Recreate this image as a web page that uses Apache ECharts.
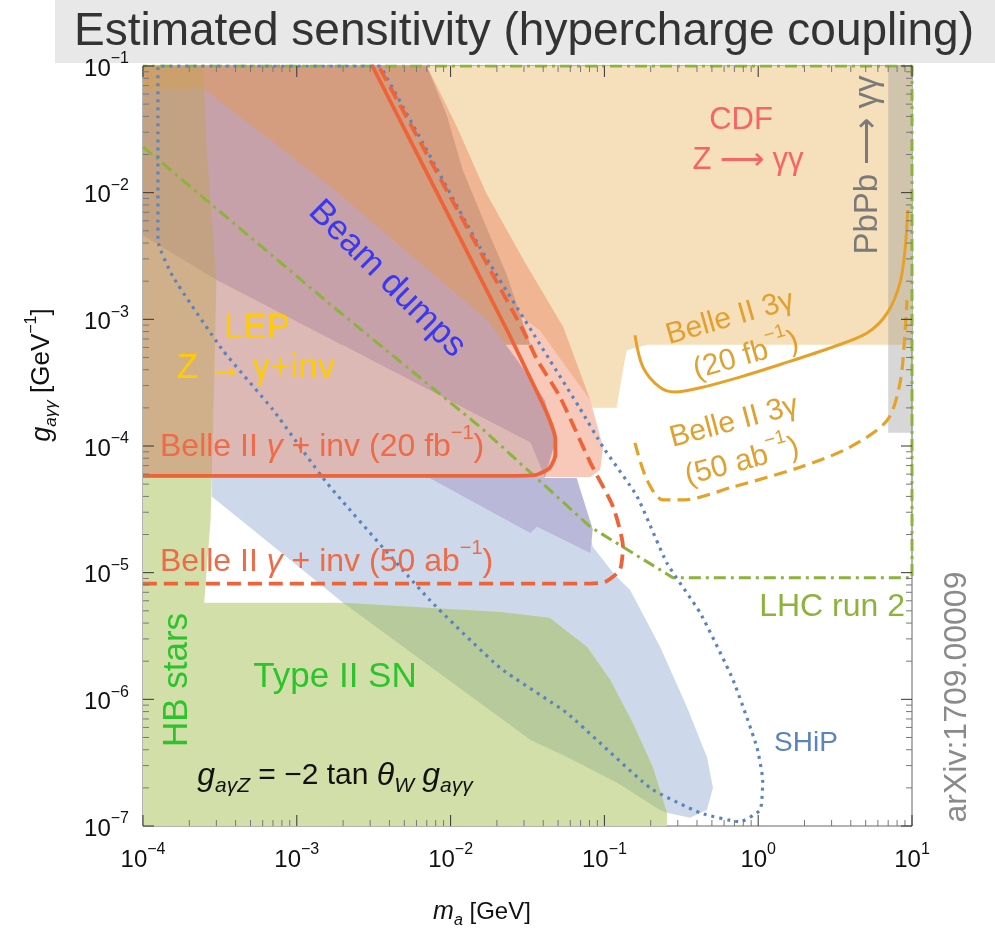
<!DOCTYPE html>
<html>
<head>
<meta charset="utf-8">
<script src="https://cdn.jsdelivr.net/npm/echarts@6/dist/echarts.min.js"></script>
<style>
  html, body { margin: 0; padding: 0; background: #ffffff; }
  #chart { width: 995px; height: 932px; }
</style>
</head>
<body>
<div id="chart"></div>
<script>
// Points are [m_a (GeV), g_aγγ (GeV^-1)].

// ---- shaded exclusion / sensitivity regions ----
const regionTan = [[1e-4,0.1],[10,0.1],[10,6.3e-4],[0.19,6.3e-4],[0.14,5.7e-4],[0.135,4.6e-4],[0.12,2.0e-4],[1e-4,2.0e-4]];
const regionPeach = [[1e-4,0.1],[7.0e-3,0.1],[0.011,0.033],[0.017,0.010],[0.030,2.9e-3],[0.054,8.7e-4],[0.081,2.3e-4],[1e-4,2.3e-4]];
const regionSalmon = [[1e-4,1.4e-3],[0.021,1.4e-3],[0.038,8.2e-4],[0.081,2.3e-4],[0.098,9.8e-5],[0.094,6.5e-5],[0.081,5.7e-5],[1e-4,5.7e-5]];
const regionBrown = [[1e-4,0.1],[7.0e-3,0.1],[9.5e-3,0.040],[0.012,0.015],[0.017,5.4e-3],[0.023,2.3e-3],[0.029,1.0e-3],[0.033,6.3e-4],[1e-4,6.3e-4]];
const regionPurple = [[1e-4,0.065],[2.45e-4,0.067],[1.64e-3,0.0113],[0.0173,9.9e-4],[0.027,4.8e-4],[0.041,2.3e-4],[0.048,1.1e-4],[0.041,5.6e-5],[0.033,1.06e-4],[3.0e-4,2.05e-3],[1e-4,4.6e-3]];
const regionPink = [[1e-4,4.6e-3],[3.0e-4,2.05e-3],[0.033,1.06e-4],[0.041,5.6e-5],[1e-4,5.6e-5]];
const regionBlue = [[2.8e-4,5.6e-5],[0.066,5.6e-5],[0.084,1.6e-5],[0.117,9.6e-6],[0.147,7.3e-6],[0.23,2.6e-6],[0.344,8.7e-7],[0.464,3.5e-7],[0.508,2.0e-7],[0.464,1.34e-7],[0.36,1.16e-7],[0.255,1.27e-7],[0.23,1.34e-7],[0.121,2.2e-7],[0.057,3.5e-7],[0.033,4.8e-7],[2.0e-3,5.8e-6],[2.8e-4,4.0e-5]];
const regionBluePurple = [[7.3e-3,5.6e-5],[0.066,5.6e-5],[0.084,2.2e-5],[0.081,1.43e-5],[0.0365,2.3e-5],[0.033,2.06e-5]];
const regionSN = [[1e-4,5.8e-6],[2.0e-3,5.8e-6],[0.021,4.9e-6],[0.044,4.4e-6],[0.077,2.6e-6],[0.109,1.43e-6],[0.153,6.5e-7],[0.207,2.9e-7],[0.255,1.27e-7],[0.255,1e-7],[1e-4,1e-7]];
const regionHB = [[1e-4,5.6e-5],[2.8e-4,5.6e-5],[2.75e-4,2.6e-5],[2.5e-4,5.8e-6],[2.45e-4,1e-7],[1e-4,1e-7]];
const regionSNBlue = [[2.0e-3,5.8e-6],[0.021,4.9e-6],[0.044,4.4e-6],[0.077,2.6e-6],[0.109,1.43e-6],[0.153,6.5e-7],[0.207,2.9e-7],[0.255,1.27e-7],[0.23,1.34e-7],[0.121,2.2e-7],[0.057,3.5e-7],[0.033,4.8e-7]];
const regionLEP = [[1e-4,0.1],[2.45e-4,0.1],[2.5e-4,0.067],[2.6e-4,0.0217],[3.0e-4,2.05e-3],[2.9e-4,3e-4],[2.8e-4,5.6e-5],[1e-4,5.6e-5]];
const regionPbPb = [[7.0,0.1],[10,0.1],[10,1.27e-4],[7.0,1.27e-4]];

// ---- projected reach curves ----
const belleInv20fb = [[1e-4,5.8e-5],[0.0155,5.8e-5],[0.0354,5.9e-5],[0.044,6.7e-5],[0.048,8.5e-5],[0.048,1.12e-4],[0.0424,1.8e-4],[0.0296,4.5e-4],[0.0233,8.2e-4],[3.1e-3,0.1]];
const belleInv50ab = [[1e-4,8.2e-6],[0.081,8.2e-6],[0.101,8.45e-6],[0.126,1.05e-5],[0.132,1.6e-5],[0.114,3.3e-5],[0.081,7.4e-5],[0.0514,2.44e-4],[0.0365,4.8e-4],[0.0296,8.2e-4],[3.4e-3,0.1]];
const shipContour = [[3.5e-3,0.1],[1.25e-4,0.1],[1.25e-4,4.2e-3],[1.57e-4,2.16e-3],[3.3e-4,5.7e-4],[7.0e-4,1.93e-4],[1.57e-3,5.1e-5],[7.3e-3,6.1e-6],[0.021,1.77e-6],[0.057,7.8e-7],[0.198,2.0e-7],[0.42,1.27e-7],[0.76,1.08e-7],[1.03,1.34e-7],[1.07,2.3e-7],[0.98,4.2e-7],[0.685,1.43e-6],[0.42,4.8e-6],[0.255,1.19e-5],[0.163,4.0e-5],[0.098,9.8e-5],[0.069,2.0e-4],[0.044,4.8e-4],[0.0155,3.7e-3],[6.6e-3,0.0247],[3.5e-3,0.1]];
const lhcRun2 = [[1e-4,0.023],[1.64e-3,1.32e-3],[0.0155,1.42e-4],[0.081,2.3e-5],[0.28,9.1e-6],[10,9.1e-6],[10,0.1],[1e-4,0.1]];
const belle3g20fb = [[0.158,7.5e-4],[0.178,4.2e-4],[0.23,2.9e-4],[0.288,2.67e-4],[0.42,2.88e-4],[0.76,3.5e-4],[1.39,4.4e-4],[3.06,6.05e-4],[5.1,7.8e-4],[6.9,1.12e-3],[8.36,1.94e-3],[9.0,3.5e-3],[9.4,7.3e-3]];
const belle3g50ab = [[0.158,1.06e-4],[0.189,5.4e-5],[0.24,3.76e-5],[0.324,3.76e-5],[0.685,4.75e-5],[1.87,6.8e-5],[3.95,9.8e-5],[6.9,1.6e-4],[8.36,3.15e-4],[9.0,7.8e-4],[9.27,1.42e-3]];

// ---- axis decades ----
const xDecades = [1e-4, 1e-3, 1e-2, 1e-1, 1, 10];
const yDecades = [1e-7, 1e-6, 1e-5, 1e-4, 1e-3, 1e-2, 1e-1];
const minorSteps = [2, 3, 4, 5, 6, 7, 8, 9];

const FONT = '"Liberation Sans", Arial, Helvetica, sans-serif';

function regionSeries(name, pts, fill) {
  return {
    name: name,
    type: 'custom',
    silent: true,
    clip: true,
    data: pts,
    encode: { x: 0, y: 1 },
    renderItem: function (params, api) {
      if (params.dataIndex !== 0) return null;
      return {
        type: 'polygon',
        shape: { points: pts.map(function (p) { return api.coord(p); }) },
        style: { fill: fill, stroke: null }
      };
    }
  };
}

function curveSeries(name, pts, color, width, dash, smooth) {
  return {
    name: name,
    type: 'line',
    data: pts,
    showSymbol: false,
    silent: true,
    smooth: smooth || false,
    lineStyle: { color: color, width: width, type: dash || 'solid', cap: 'butt' }
  };
}

function tickList(decades) {
  const out = [];
  decades.forEach(function (d, i) {
    out.push({ v: d, major: true });
    if (i < decades.length - 1) minorSteps.forEach(function (k) { out.push({ v: k * d, major: false }); });
  });
  return out;
}
const xTicks = tickList(xDecades);
const yTicks = tickList(yDecades);

const tickSeries = {
  type: 'custom',
  silent: true,
  clip: false,
  data: [[xDecades[0], yDecades[0]]],
  encode: { x: 0, y: 1 },
  z: 10,
  renderItem: function (params, api) {
    const xMin = xDecades[0], xMax = xDecades[xDecades.length - 1];
    const yMin = yDecades[0], yMax = yDecades[yDecades.length - 1];
    const bottom = api.coord([xMin, yMin])[1], top = api.coord([xMin, yMax])[1];
    const left = api.coord([xMin, yMin])[0], right = api.coord([xMax, yMin])[0];
    const kids = [];
    function seg(x1, y1, x2, y2, major) {
      kids.push({ type: 'line', shape: { x1: x1, y1: y1, x2: x2, y2: y2 },
        style: { stroke: major ? '#333' : '#777', lineWidth: 1 } });
    }
    xTicks.forEach(function (t) {
      const x = api.coord([t.v, yMin])[0];
      const L = t.major ? 11 : 6;
      seg(x, bottom, x, bottom - L, t.major);
      seg(x, top, x, top + L, t.major);
    });
    yTicks.forEach(function (t) {
      const y = api.coord([xMin, t.v])[1];
      const L = t.major ? 11 : 6;
      seg(left, y, left + L, y, t.major);
      seg(right, y, right - L, y, t.major);
    });
    return { type: 'group', children: kids };
  }
};

function powerLabel(v) {
  const e = Math.round(Math.log10(v));
  const s = e < 0 ? '\u2212' + (-e) : String(e);
  return '{b|10}{s|' + s + '}';
}
const labelRich = {
  b: { fontSize: 24, fontFamily: FONT, color: '#111', lineHeight: 30, verticalAlign: 'bottom' },
  s: { fontSize: 16, fontFamily: FONT, color: '#111', lineHeight: 30, verticalAlign: 'top' }
};

function label(x, y, text, color, size, rot, extra) {
  return {
    type: 'text', x: x, y: y, rotation: rot || 0, silent: true, z: 100,
    style: Object.assign({ text: text, fill: color, font: size + 'px ' + FONT,
      align: 'center', verticalAlign: 'middle' }, extra || {})
  };
}

function supRich(color, size) {
  return {
    n: { fontSize: size, fontFamily: FONT, fill: color, lineHeight: size + 8, verticalAlign: 'bottom' },
    i: { fontSize: size, fontFamily: FONT, fontStyle: 'italic', fill: color, lineHeight: size + 8, verticalAlign: 'bottom' },
    s: { fontSize: Math.round(size * 0.62), fontFamily: FONT, fill: color, lineHeight: size + 8, verticalAlign: 'top' }
  };
}

const chart = echarts.init(document.getElementById('chart'), null, { renderer: 'canvas' });

const option = {
  animation: false,
  backgroundColor: '#ffffff',
  grid: { left: 143, right: 83, top: 66, bottom: 106, show: true, borderColor: '#666', borderWidth: 1, backgroundColor: '#ffffff' },
  xAxis: {
    type: 'log', logBase: 10, min: 1e-4, max: 10, splitNumber: 6,
    axisLine: { show: false }, axisTick: { show: false }, splitLine: { show: false },
    axisLabel: { formatter: powerLabel, rich: labelRich, margin: 16, showMinLabel: true, showMaxLabel: true }
  },
  yAxis: {
    type: 'log', logBase: 10, min: 1e-7, max: 1e-1, splitNumber: 7,
    axisLine: { show: false }, axisTick: { show: false }, splitLine: { show: false },
    axisLabel: { formatter: powerLabel, rich: labelRich, margin: 14, showMinLabel: true, showMaxLabel: true }
  },
  series: [
    regionSeries('CDF', regionTan, '#f6e0bb'),
    regionSeries('peach', regionPeach, '#f0b592'),
    regionSeries('salmon', regionSalmon, '#f8c9b9'),
    regionSeries('brown', regionBrown, '#d49d80'),
    regionSeries('beam dumps', regionPurple, '#c6a1aa'),
    regionSeries('pink', regionPink, '#ddb9b5'),
    regionSeries('blue', regionBlue, '#cdd9ea'),
    regionSeries('blue purple', regionBluePurple, '#b9b8d9'),
    regionSeries('Type II SN', regionSN, '#d3dfa8'),
    regionSeries('HB stars', regionHB, '#d3dfa8'),
    regionSeries('SN blue', regionSNBlue, '#b7ca9c'),
    regionSeries('LEP', regionLEP, 'rgba(190,165,80,0.42)'),
    regionSeries('PbPb', regionPbPb, 'rgba(150,150,150,0.38)'),
    curveSeries('LHC run 2', lhcRun2, '#8db33a', 3, [12, 5, 3, 5]),
    curveSeries('SHiP', shipContour, '#5b83c0', 3.2, [3, 5], 0.15),
    curveSeries('Belle II 3γ 20 fb', belle3g20fb, '#e6a228', 3, 'solid', 0.3),
    curveSeries('Belle II 3γ 50 ab', belle3g50ab, '#e6a228', 3.2, [13, 7], 0.3),
    curveSeries('Belle II γ+inv 50 ab', belleInv50ab, '#ee6337', 3.8, [14, 7], 0.2),
    curveSeries('Belle II γ+inv 20 fb', belleInv20fb, '#ee6337', 3.8, 'solid', 0.2),
    tickSeries
  ],
  graphic: [
    { type: 'rect', shape: { x: 55, y: 0, width: 940, height: 63 }, style: { fill: '#e8e8e8' }, z: 0, silent: true },
    { type: 'text', x: 74, y: 32, z: 1, silent: true,
      style: { text: 'Estimated sensitivity (hypercharge coupling)', fill: '#333333', font: '46px ' + FONT, align: 'left', verticalAlign: 'middle' } },

    label(741, 120, 'CDF', '#f86464', 31),
    label(748, 160, 'Z \u27f6 \u03b3\u03b3', '#f86464', 31),
    label(868, 165, 'PbPb \u27f6 \u03b3\u03b3', '#7a7a7a', 33, Math.PI / 2),
    label(387, 279, 'Beam dumps', '#3838f5', 35, -Math.PI / 4),
    label(257, 328, 'LEP', '#ffcc00', 35),
    label(256, 368, 'Z \u2192 \u03b3+inv', '#ffcc00', 35),
    label(160, 443, '{n|Belle II }{i|\u03b3}{n| + inv (20 fb}{s|\u22121}{n|)}', '#ef6a46', 32, 0,
      { align: 'left', rich: supRich('#ef6a46', 32) }),
    label(160, 558, '{n|Belle II }{i|\u03b3}{n| + inv (50 ab}{s|\u22121}{n|)}', '#ef6a46', 32, 0,
      { align: 'left', rich: supRich('#ef6a46', 32) }),
    label(730, 318, 'Belle II 3\u03b3', '#e2a030', 30, 0.28),
    label(745, 352, '{n|(20 fb}{s|\u22121}{n|)}', '#e2a030', 30, 0.28, { rich: supRich('#e2a030', 30) }),
    label(734, 422, 'Belle II 3\u03b3', '#e2a030', 30, 0.26),
    label(741, 458, '{n|(50 ab}{s|\u22121}{n|)}', '#e2a030', 30, 0.26, { rich: supRich('#e2a030', 30) }),
    label(905, 607, 'LHC run 2', '#8db33a', 32, 0, { align: 'right' }),
    label(177, 680, 'HB stars', '#2bc52b', 35, Math.PI / 2),
    label(335, 677, 'Type II SN', '#2bc52b', 35),
    label(806, 743, 'SHiP', '#5b83c0', 28),
    label(957, 697, 'arXiv:1709.00009', '#8a8a8a', 32, Math.PI / 2),
    label(335, 776,
      '{i|g}{sub|a\u03b3Z}{n| = \u22122 tan }{i|\u03b8}{sub|W}{n| }{i|g}{sub|a\u03b3\u03b3}', '#111', 30, 0, {
        rich: {
          n: { fontSize: 30, fontFamily: FONT, fill: '#111', lineHeight: 42, verticalAlign: 'middle' },
          i: { fontSize: 32, fontFamily: FONT, fontStyle: 'italic', fill: '#111', lineHeight: 42, verticalAlign: 'middle' },
          sub: { fontSize: 21, fontFamily: FONT, fontStyle: 'italic', fill: '#111', lineHeight: 42, verticalAlign: 'bottom' }
        }
      }),
    label(482, 912, '{i|m}{sub|a}{n| [GeV]}', '#111', 24, 0, {
      rich: {
        n: { fontSize: 24, fontFamily: FONT, fill: '#111', lineHeight: 34, verticalAlign: 'middle' },
        i: { fontSize: 25, fontFamily: FONT, fontStyle: 'italic', fill: '#111', lineHeight: 34, verticalAlign: 'middle' },
        sub: { fontSize: 16, fontFamily: FONT, fontStyle: 'italic', fill: '#111', lineHeight: 34, verticalAlign: 'bottom' }
      }
    }),
    label(42, 375, '{i|g}{sub|a\u03b3\u03b3}{n| [GeV}{s|\u22121}{n|]}', '#111', 26, Math.PI / 2, {
      rich: {
        n: { fontSize: 26, fontFamily: FONT, fill: '#111', lineHeight: 36, verticalAlign: 'middle' },
        i: { fontSize: 27, fontFamily: FONT, fontStyle: 'italic', fill: '#111', lineHeight: 36, verticalAlign: 'middle' },
        sub: { fontSize: 17, fontFamily: FONT, fontStyle: 'italic', fill: '#111', lineHeight: 36, verticalAlign: 'bottom' },
        s: { fontSize: 16, fontFamily: FONT, fill: '#111', lineHeight: 36, verticalAlign: 'top' }
      }
    })
  ]
};

chart.setOption(option);
</script>
</body>
</html>
